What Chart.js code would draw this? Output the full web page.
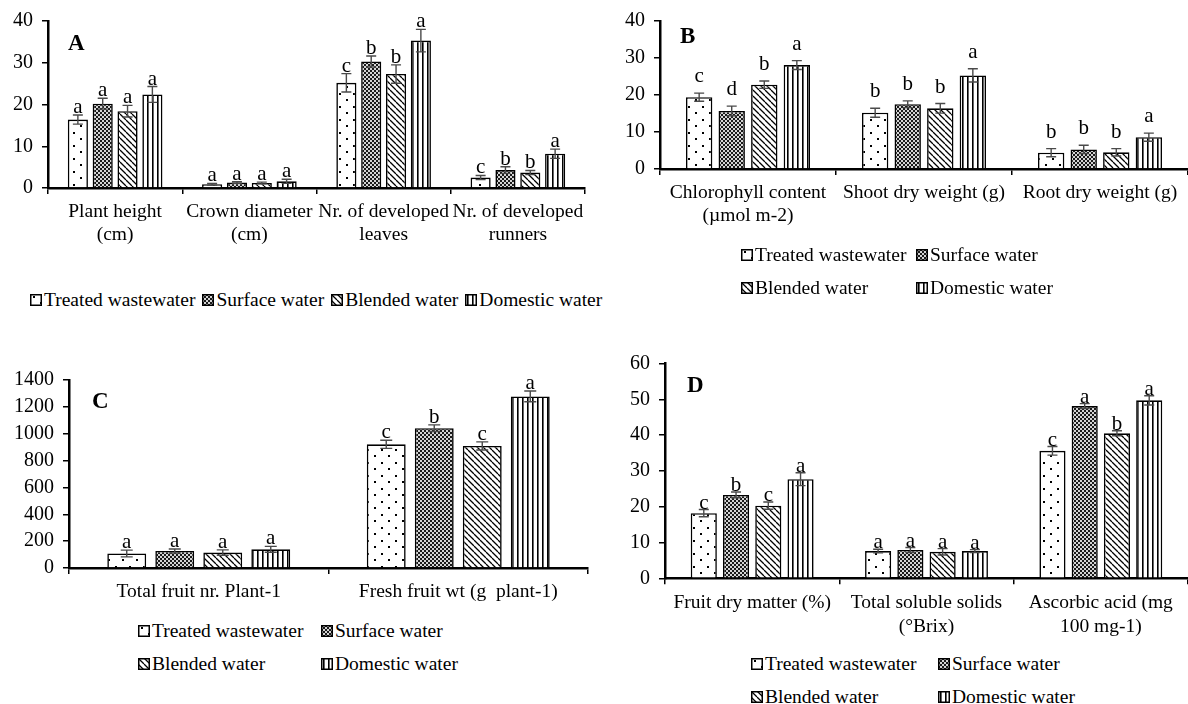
<!DOCTYPE html>
<html><head><meta charset="utf-8">
<script src="https://cdn.jsdelivr.net/npm/chart.js@4.4.0/dist/chart.umd.min.js"></script>
<style>
html,body{margin:0;padding:0;background:#fff;}
body{width:1188px;height:704px;position:relative;overflow:hidden;font-family:'Liberation Serif','Times New Roman',serif;color:#000;}
canvas.ch{position:absolute;}
.pl{position:absolute;font-weight:bold;font-size:23px;line-height:23px;}
.leg{position:absolute;display:flex;align-items:center;font-size:19.5px;line-height:20px;white-space:nowrap;}
.leg canvas{margin-right:2px;}
.legrow{position:absolute;display:flex;align-items:center;font-size:19.5px;line-height:20px;white-space:nowrap;}
.legrow .it{display:flex;align-items:center;margin-right:7px;}
.legrow canvas{margin-right:2px;}
</style></head><body>
<canvas class="ch" id="cA" width="600" height="260" style="left:0;top:0"></canvas>
<canvas class="ch" id="cB" width="573" height="250" style="left:615px;top:0"></canvas>
<canvas class="ch" id="cC" width="600" height="285" style="left:0;top:330px"></canvas>
<canvas class="ch" id="cD" width="568" height="320" style="left:620px;top:330px"></canvas>
<div class="pl" style="left:68px;top:31px">A</div>
<div class="pl" style="left:680px;top:24px">B</div>
<div class="pl" style="left:92px;top:389px">C</div>
<div class="pl" style="left:687px;top:373px">D</div>
<script>
// ---------- data ----------
const seriesNames = ['Treated wastewater', 'Surface water', 'Blended water', 'Domestic water'];

// Panel A
const categoriesA = [['Plant height', '(cm)'], ['Crown diameter', '(cm)'], ['Nr. of developed', 'leaves'], ['Nr. of developed', 'runners']];
const treatedA = [16.4, 0.9, 25.2, 2.5];
const surfaceA = [20.2, 1.3, 30.3, 4.3];
const blendedA = [18.4, 1.2, 27.3, 3.7];
const domesticA = [22.4, 1.6, 35.3, 8.2];
const treatedErrA = [1.1, 0.2, 2.2, 0.5];
const surfaceErrA = [1.3, 0.2, 1.3, 0.8];
const blendedErrA = [1.4, 0.2, 2.2, 0.5];
const domesticErrA = [1.9, 0.5, 2.7, 1.1];
const treatedLetA = ['a', 'a', 'c', 'c'];
const surfaceLetA = ['a', 'a', 'b', 'b'];
const blendedLetA = ['a', 'a', 'b', 'b'];
const domesticLetA = ['a', 'a', 'a', 'a'];
const yTicksA = [0, 10, 20, 30, 40];

// Panel B
const categoriesB = [['Chlorophyll content', '(µmol m-2)'], 'Shoot dry weight (g)', 'Root dry weight (g)'];
const treatedB = [19.4, 15.2, 4.4];
const surfaceB = [15.7, 17.5, 5.3];
const blendedB = [22.8, 16.4, 4.5];
const domesticB = [28.1, 25.3, 8.6];
const treatedErrB = [1.1, 1.2, 1.1];
const surfaceErrB = [1.3, 0.9, 1.1];
const blendedErrB = [1.0, 1.3, 1.0];
const domesticErrB = [1.2, 1.8, 1.1];
const treatedLetB = ['c', 'b', 'b'];
const surfaceLetB = ['d', 'b', 'b'];
const blendedLetB = ['b', 'b', 'b'];
const domesticLetB = ['a', 'a', 'a'];
const yTicksB = [0, 10, 20, 30, 40];

// Panel C
const categoriesC = ['Total fruit nr. Plant-1', 'Fresh fruit wt (g  plant-1)'];
const treatedC = [108, 921];
const surfaceC = [127, 1041];
const blendedC = [115, 909];
const domesticC = [139, 1278];
const treatedErrC = [25, 30];
const surfaceErrC = [15, 25];
const blendedErrC = [20, 30];
const domesticErrC = [22, 40];
const treatedLetC = ['a', 'c'];
const surfaceLetC = ['a', 'b'];
const blendedLetC = ['a', 'c'];
const domesticLetC = ['a', 'a'];
const yTicksC = [0, 200, 400, 600, 800, 1000, 1200, 1400];

// Panel D
const categoriesD = ['Fruit dry matter (%)', ['Total soluble solids', '(°Brix)'], ['Ascorbic acid (mg', '100 mg-1)']];
const treatedD = [18.2, 7.6, 35.6];
const surfaceD = [23.3, 7.9, 48.1];
const blendedD = [20.3, 7.4, 40.5];
const domesticD = [27.7, 7.6, 49.7];
const treatedErrD = [1.0, 0.5, 1.2];
const surfaceErrD = [0.8, 0.7, 0.7];
const blendedErrD = [1.0, 0.9, 0.7];
const domesticErrD = [1.8, 0.4, 1.3];
const treatedLetD = ['c', 'a', 'c'];
const surfaceLetD = ['b', 'a', 'a'];
const blendedLetD = ['c', 'a', 'b'];
const domesticLetD = ['a', 'a', 'a'];
const yTicksD = [0, 10, 20, 30, 40, 50, 60];

// ---------- patterns ----------
function tile(w, h, draw) {
  const c = document.createElement('canvas'); c.width = w; c.height = h;
  const g = c.getContext('2d'); draw(g, w, h);
  return g.createPattern(c, 'repeat');
}
const patDots = tile(14, 13, (g, w, h) => {
  g.fillStyle = '#fff'; g.fillRect(0, 0, w, h);
  g.fillStyle = '#000'; g.fillRect(3, 2, 2, 2); g.fillRect(10, 8, 2, 2);
});
const patCheck = tile(4, 4, (g) => {
  g.fillStyle = '#d4d4d4'; g.fillRect(0, 0, 4, 4);
  g.fillStyle = '#1a1a1a'; g.fillRect(0, 0, 2, 2); g.fillRect(2, 2, 2, 2);
});
const patDiag = tile(6, 6, (g, w, h) => {
  g.fillStyle = '#fff'; g.fillRect(0, 0, w, h);
  g.strokeStyle = '#000'; g.lineWidth = 1.3; g.beginPath();
  g.moveTo(0, 0); g.lineTo(w, h);
  g.moveTo(-w, 0); g.lineTo(0, h);
  g.moveTo(0, -h); g.lineTo(w, 0);
  g.stroke();
});
const patVert = tile(5, 4, (g, w, h) => {
  g.fillStyle = '#fff'; g.fillRect(0, 0, w, h);
  g.fillStyle = '#000'; g.fillRect(2, 0, 1.6, h);
});
const pats = [patDots, patCheck, patDiag, patVert];

// ---------- error bars + letters ----------
const errPlugin = {
  id: 'err',
  afterDatasetsDraw(chart, args, opts) {
    const ctx = chart.ctx, ys = chart.scales.y;
    ctx.save();
    chart.data.datasets.forEach((ds, i) => {
      const meta = chart.getDatasetMeta(i);
      meta.data.forEach((bar, j) => {
        const v = ds.data[j], e = ds.errors[j];
        const yt = ys.getPixelForValue(v + e), yb = ys.getPixelForValue(Math.max(v - e, 0));
        const x = bar.x, cap = opts.cap;
        ctx.strokeStyle = '#4a4a4a'; ctx.lineWidth = 1.4;
        ctx.beginPath();
        ctx.moveTo(x, yt); ctx.lineTo(x, yb);
        ctx.moveTo(x - cap, yt); ctx.lineTo(x + cap, yt);
        ctx.moveTo(x - cap, yb); ctx.lineTo(x + cap, yb);
        ctx.stroke();
        ctx.fillStyle = '#000';
        ctx.font = '21px "Liberation Serif", "Times New Roman", serif';
        ctx.textAlign = 'center'; ctx.textBaseline = 'alphabetic';
        ctx.fillText(ds.letters[j], x, yt - opts.gap);
      });
    });
    ctx.restore();
  }
};

function makeChart(id, cats, vals, errs, lets, ticks, geom) {
  return new Chart(document.getElementById(id), {
    type: 'bar',
    data: {
      labels: cats,
      datasets: vals.map((d, i) => ({
        label: seriesNames[i], data: d, errors: errs[i], letters: lets[i],
        backgroundColor: pats[i], borderColor: '#000', borderWidth: 1.6,
        categoryPercentage: 0.74, barPercentage: 0.81
      }))
    },
    options: {
      responsive: false, animation: false, events: [],
      layout: { padding: { top: geom.top, right: geom.right, left: 0, bottom: 0 } },
      plugins: { legend: { display: false }, tooltip: { enabled: false }, err: { cap: geom.cap, gap: geom.gap } },
      scales: {
        x: {
          grid: { offset: true, drawOnChartArea: false, drawTicks: true, tickLength: 6, color: '#000', lineWidth: 1.5 },
          border: { color: '#000', width: 2.5 },
          ticks: { color: '#000', font: { family: '"Liberation Serif", "Times New Roman", serif', size: 19.5, lineHeight: 1.2 }, padding: geom.xpad, maxRotation: 0, minRotation: 0, autoSkip: false },
          afterFit: s => { s.height = geom.xh; }
        },
        y: {
          min: ticks[0], max: ticks[ticks.length - 1],
          afterBuildTicks: s => { s.ticks = ticks.map(v => ({ value: v })); },
          grid: { drawOnChartArea: false, drawTicks: true, tickLength: 6, color: '#000', lineWidth: 1.5 },
          border: { color: '#000', width: 2.5 },
          ticks: { color: '#000', autoSkip: false, callback: v => String(v), font: { family: '"Liberation Serif", "Times New Roman", serif', size: 20 }, padding: 9 },
          afterFit: s => { s.width = geom.yw; }
        }
      }
    },
    plugins: [errPlugin]
  });
}

makeChart('cA', categoriesA, [treatedA, surfaceA, blendedA, domesticA],
  [treatedErrA, surfaceErrA, blendedErrA, domesticErrA],
  [treatedLetA, surfaceLetA, blendedLetA, domesticLetA], yTicksA,
  { top: 21, right: 15, xh: 72, yw: 48, xpad: 6, cap: 5, gap: 2 });
makeChart('cB', categoriesB, [treatedB, surfaceB, blendedB, domesticB],
  [treatedErrB, surfaceErrB, blendedErrB, domesticErrB],
  [treatedLetB, surfaceLetB, blendedLetB, domesticLetB], yTicksB,
  { top: 15, right: 0, xh: 81, yw: 45, xpad: 6, cap: 5, gap: 11 });
makeChart('cC', categoriesC, [treatedC, surfaceC, blendedC, domesticC],
  [treatedErrC, surfaceErrC, blendedErrC, domesticErrC],
  [treatedLetC, surfaceLetC, blendedLetC, domesticLetC], yTicksC,
  { top: 50, right: 12, xh: 47, yw: 69, xpad: 6, cap: 6, gap: 2 });
makeChart('cD', categoriesD, [treatedD, surfaceD, blendedD, domesticD],
  [treatedErrD, surfaceErrD, blendedErrD, domesticErrD],
  [treatedLetD, surfaceLetD, blendedLetD, domesticLetD], yTicksD,
  { top: 33.5, right: 0, xh: 71.7, yw: 45, xpad: 7, cap: 5, gap: 1 });

// ---------- legends ----------
function swatch(idx) {
  const c = document.createElement('canvas'); c.width = 12; c.height = 12;
  const g = c.getContext('2d'); g.fillStyle = pats[idx]; g.fillRect(0, 0, 12, 12);
  g.strokeStyle = '#000'; g.lineWidth = 1.5; g.strokeRect(0.75, 0.75, 10.5, 10.5);
  return c;
}
function legItem(idx, x, yc) {
  const d = document.createElement('div'); d.className = 'leg';
  d.style.left = x + 'px'; d.style.top = (yc - 10) + 'px';
  d.appendChild(swatch(idx));
  const s = document.createElement('span'); s.textContent = seriesNames[idx]; d.appendChild(s);
  document.body.appendChild(d);
}
// A: single row
(function () {
  const row = document.createElement('div'); row.className = 'legrow';
  row.style.left = '30px'; row.style.top = '290px';
  seriesNames.forEach((n, i) => {
    const it = document.createElement('div'); it.className = 'it';
    it.appendChild(swatch(i));
    const s = document.createElement('span'); s.textContent = n; it.appendChild(s);
    row.appendChild(it);
  });
  document.body.appendChild(row);
})();
// B, C, D: 2 x 2
[[741, 916, 255, 288], [138, 321, 631, 664], [751, 938, 664, 697]].forEach(p => {
  legItem(0, p[0], p[2]); legItem(1, p[1], p[2]);
  legItem(2, p[0], p[3]); legItem(3, p[1], p[3]);
});
</script>
</body></html>
